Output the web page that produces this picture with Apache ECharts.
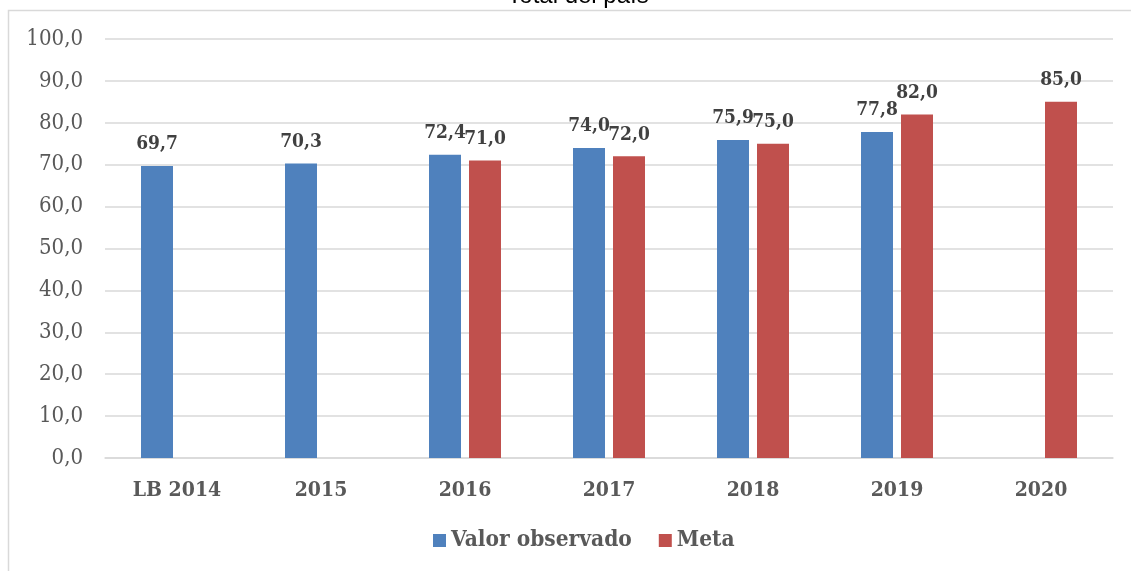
<!DOCTYPE html>
<html><head><meta charset="utf-8">
<script src="https://cdn.jsdelivr.net/npm/echarts@6/dist/echarts.min.js"></script>
<style>html,body{margin:0;padding:0;background:#fff;}#c{width:1131px;height:571px;}</style>
</head><body><div id="c"></div>
<script>
const categories = ['LB 2014','2015','2016','2017','2018','2019','2020'];
const observado = [69.7, 70.3, 72.4, 74.0, 75.9, 77.8, null];
const meta = [null, null, 71.0, 72.0, 75.0, 82.0, 85.0];
const seriesNames = ['Valor observado','Meta'];
const titleText = 'Total del país';

const fmt = v => v.toFixed(1).replace('.', ',');
const serif = '"DejaVu Serif Condensed", "DejaVu Serif"';
const chart = echarts.init(document.getElementById('c'));
const lbl = {show:true, position:'top', distance:12, fontFamily:serif, fontWeight:'bold', fontSize:19, color:'#404040',
  formatter: p => fmt(p.value)};
chart.setOption({
  animation:false,
  graphic:[
    {type:'rect', shape:{x:8.5,y:10.5,width:1200,height:700}, style:{fill:'none', stroke:'#D9D9D9', lineWidth:1.5}, z:-1},
    {type:'text', x:578, y:-4, style:{text:titleText, font:'24px "Liberation Sans"', fill:'#000', textAlign:'center', textVerticalAlign:'middle'}}
  ],
  grid:{left:105, right:18, top:39, bottom:113},
  legend:{bottom:14, left:428, itemWidth:13, itemHeight:13, itemGap:27, icon:'rect',
    textStyle:{fontFamily:serif, fontWeight:'bold', fontSize:22.5, color:'#595959'}},
  xAxis:{type:'category', data:categories, axisTick:{show:false},
    axisLine:{lineStyle:{color:'#D9D9D9', width:1.5}},
    axisLabel:{margin:22, fontFamily:serif, fontWeight:'bold', fontSize:21, color:'#595959'}},
  yAxis:{type:'value', min:0, max:100, interval:10,
    axisLabel:{margin:22, fontFamily:serif, fontSize:22, color:'#595959', formatter: v => fmt(v)},
    splitLine:{lineStyle:{color:'#D9D9D9', width:1.5}}},
  series:[
    {name:seriesNames[0], type:'bar', data:observado, barWidth:32, barGap:'25%', itemStyle:{color:'#4F81BD'}, label:lbl},
    {name:seriesNames[1], type:'bar', data:meta, barWidth:32, barGap:'25%', itemStyle:{color:'#C0504D'}, label:lbl}
  ]
});
</script></body></html>
